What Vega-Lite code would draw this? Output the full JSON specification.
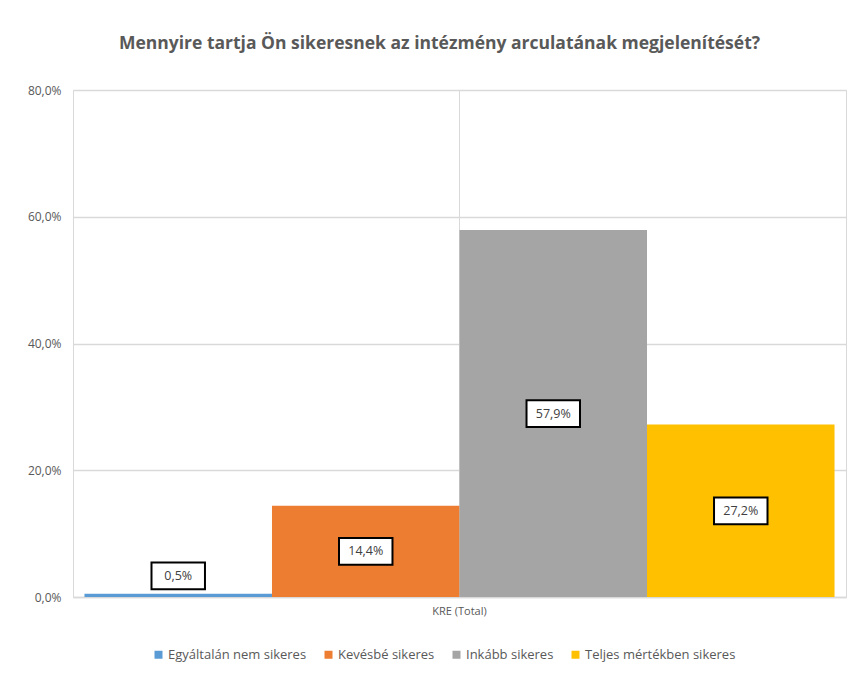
{
  "$schema": "https://vega.github.io/schema/vega-lite/v6.json",
  "autosize": "none",
  "width": 773,
  "height": 507,
  "padding": {"left": 73, "top": 90, "right": 15, "bottom": 84},
  "background": "white",
  "title": {
    "text": "Mennyire tartja Ön sikeresnek az intézmény arculatának megjelenítését?",
    "font": "Open Sans",
    "fontSize": 17.5,
    "fontWeight": "bold",
    "color": "#595959",
    "anchor": "middle",
    "dx": -20,
    "offset": 32
  },
  "data": {
    "values": [
      {"cat": "KRE (Total)", "series": "Egyáltalán nem sikeres", "value": 0.005},
      {"cat": "KRE (Total)", "series": "Kevésbé sikeres", "value": 0.144},
      {"cat": "KRE (Total)", "series": "Inkább sikeres", "value": 0.579},
      {"cat": "KRE (Total)", "series": "Teljes mértékben sikeres", "value": 0.272}
    ]
  },
  "transform": [
    {"calculate": "max(datum.value / 2, 0.0335)", "as": "labelPos"},
    {"calculate": "replace(format(datum.value, '.1%'), '.', ',')", "as": "label"}
  ],
  "encoding": {
    "x": {
      "field": "cat",
      "type": "nominal",
      "scale": {"paddingInner": 0, "paddingOuter": 0.0153},
      "axis": {
        "title": null,
        "labelAngle": 0,
        "labelFont": "Open Sans",
        "labelFontSize": 11,
        "labelColor": "#595959",
        "labelPadding": 8,
        "ticks": false,
        "domainColor": "#d9d9d9",
        "domainWidth": 1.5,
        "grid": true,
        "gridColor": "#d9d9d9",
        "gridWidth": 1
      }
    },
    "xOffset": {
      "field": "series",
      "type": "nominal",
      "sort": ["Egyáltalán nem sikeres", "Kevésbé sikeres", "Inkább sikeres", "Teljes mértékben sikeres"],
      "scale": {"paddingInner": 0, "paddingOuter": 0}
    }
  },
  "layer": [
    {
      "mark": {"type": "bar"},
      "encoding": {
        "y": {
          "field": "value",
          "type": "quantitative",
          "scale": {"domain": [0, 0.8]},
          "axis": {
            "title": null,
            "format": ".1%",
            "values": [0, 0.2, 0.4, 0.6, 0.8],
            "labelOverlap": false,
            "labelExpr": "replace(datum.label, '.', ',')",
            "labelFont": "Open Sans",
            "labelFontSize": 12,
            "labelColor": "#595959",
            "labelPadding": 12,
            "domain": false,
            "ticks": false,
            "gridColor": "#d9d9d9",
            "gridWidth": 1.5
          }
        },
        "color": {
          "field": "series",
          "type": "nominal",
          "sort": ["Egyáltalán nem sikeres", "Kevésbé sikeres", "Inkább sikeres", "Teljes mértékben sikeres"],
          "scale": {
            "domain": ["Egyáltalán nem sikeres", "Kevésbé sikeres", "Inkább sikeres", "Teljes mértékben sikeres"],
            "range": ["#5B9BD5", "#ED7D31", "#A5A5A5", "#FFC000"]
          },
          "legend": {
            "title": null,
            "orient": "none",
            "legendX": 79,
            "legendY": 558,
            "direction": "horizontal",
            "symbolType": "square",
            "symbolSize": 64,
            "symbolStrokeWidth": 0,
            "labelFont": "Open Sans",
            "labelFontSize": 13,
            "labelColor": "#595959",
            "columnPadding": 15,
            "symbolOffset": 0,
            "labelOffset": 3,
            "labelLimit": 300
          }
        }
      }
    },
    {
      "mark": {
        "type": "point",
        "shape": "M-1,-0.5H1V0.5H-1Z",
        "size": 2860,
        "filled": true,
        "fill": "white",
        "stroke": "black",
        "strokeWidth": 2,
        "opacity": 1
      },
      "encoding": {
        "y": {"field": "labelPos", "type": "quantitative"}
      }
    },
    {
      "mark": {
        "type": "text",
        "font": "Open Sans",
        "fontSize": 12.5,
        "color": "#404040",
        "baseline": "middle",
        "align": "center"
      },
      "encoding": {
        "y": {"field": "labelPos", "type": "quantitative"},
        "text": {"field": "label", "type": "nominal"}
      }
    }
  ],
  "config": {
    "view": {"stroke": "#d9d9d9", "strokeWidth": 1}
  }
}
